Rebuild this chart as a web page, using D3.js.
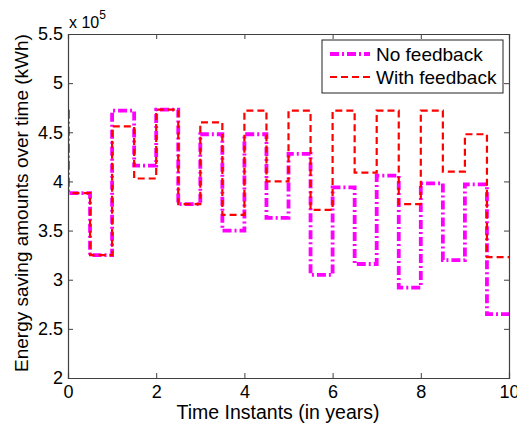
<!DOCTYPE html>
<html><head><meta charset="utf-8">
<script src="https://cdn.jsdelivr.net/npm/d3@7"></script>
<style>body{margin:0;background:#fff}svg{display:block}text{font-family:"Liberation Sans",Arial,sans-serif}</style>
</head><body><svg id="c" width="517" height="430"></svg>
<script>
// values in units of 10^5 kWh
const timeInstants = [0,0.5,1,1.5,2,2.5,3,3.5,4,4.5,5,5.5,6,6.5,7,7.5,8,8.5,9,9.5];
const startValue = 4.73;
const noFeedback   = [3.88,3.25,4.72,4.16,4.73,3.77,4.48,3.50,4.48,3.63,4.28,3.05,3.94,3.16,4.06,2.92,3.98,3.20,3.97,2.65];
const withFeedback = [3.88,3.25,4.56,4.03,4.73,3.77,4.60,3.66,4.72,4.00,4.72,3.71,4.72,4.09,4.72,3.77,4.72,4.10,4.48,3.23];
const xTicks = [0,2,4,6,8,10];
const yTicks = [2,2.5,3,3.5,4,4.5,5,5.5];
const seriesNames = ["No feedback","With feedback"];

const svg = d3.select("#c");
const L=68,R=509,T=34,B=378;
const x = d3.scaleLinear().domain([0,10]).range([L,R]);
const y = d3.scaleLinear().domain([2,5.5]).range([B,T]);
const axisColor="#404040";

svg.append("defs").append("clipPath").attr("id","clip").append("rect")
  .attr("x",L).attr("y",T).attr("width",R-L).attr("height",B-T);

function pts(vals){
  const p=[[0,startValue]];
  vals.forEach((v,i)=>p.push([timeInstants[i],v]));
  p.push([10,vals[vals.length-1]]);
  return p;
}
const line = d3.line().x(d=>x(d[0])).y(d=>y(d[1])).curve(d3.curveStepAfter);
const g = svg.append("g").attr("clip-path","url(#clip)");
g.append("path").attr("d",line(pts(noFeedback))).attr("fill","none")
  .attr("stroke","#ff00ff").attr("stroke-width",3.8).attr("stroke-dasharray","9,3,2,3");
g.append("path").attr("d",line(pts(withFeedback))).attr("fill","none")
  .attr("stroke","#ff0000").attr("stroke-width",2.2).attr("stroke-dasharray","7,4");

// frame and axes
function styleAxis(sel){
  sel.select(".domain").attr("stroke",axisColor);
  sel.selectAll(".tick line").attr("stroke",axisColor);
  sel.selectAll("text").attr("fill","#000").style("font-size","18px").attr("font-family","Liberation Sans, Arial, sans-serif");
}
const xb = svg.append("g").attr("transform",`translate(0,${B})`)
  .call(d3.axisBottom(x).tickValues(xTicks).tickSize(-5).tickPadding(7).tickFormat(d3.format("d")));
styleAxis(xb);
const xt = svg.append("g").attr("transform",`translate(0,${T})`)
  .call(d3.axisTop(x).tickValues(xTicks).tickSize(-5).tickFormat(""));
styleAxis(xt);
const yl = svg.append("g").attr("transform",`translate(${L},0)`)
  .call(d3.axisLeft(y).tickValues(yTicks).tickSize(-5).tickPadding(5).tickFormat(d=>String(d)));
styleAxis(yl);
const yr = svg.append("g").attr("transform",`translate(${R},0)`)
  .call(d3.axisRight(y).tickValues(yTicks).tickSize(-5).tickFormat(""));
styleAxis(yr);
svg.selectAll(".domain").attr("stroke-width",1.2);

// exponent label
const ex = svg.append("text").attr("x",69).attr("y",28).style("font-size","16px").attr("fill","#000");
ex.append("tspan").text("x 10");
ex.append("tspan").attr("dy",-9).style("font-size","12px").text("5");

// axis labels
svg.append("text").attr("x",278).attr("y",419).attr("text-anchor","middle")
  .style("font-size","19.5px").text("Time Instants (in years)");
svg.append("text").attr("transform",`translate(28,203) rotate(-90)`).attr("text-anchor","middle")
  .style("font-size","19px").text("Energy saving amounts over time (kWh)");

// legend
const lg = svg.append("g");
lg.append("rect").attr("x",322).attr("y",40).attr("width",181).attr("height",53)
  .attr("fill","#fff").attr("stroke","#222").attr("stroke-width",1);
const lstyles=[{c:"#ff00ff",w:3.8,d:"9,3,2,3"},{c:"#ff0000",w:2.2,d:"7,4"}];
seriesNames.forEach((n,i)=>{
  const yy=54+i*23;
  lg.append("line").attr("x1",330).attr("x2",370).attr("y1",yy).attr("y2",yy)
    .attr("stroke",lstyles[i].c).attr("stroke-width",lstyles[i].w).attr("stroke-dasharray",lstyles[i].d);
  lg.append("text").attr("x",376).attr("y",yy+6.5).style("font-size","19px").text(n);
});
</script></body></html>
